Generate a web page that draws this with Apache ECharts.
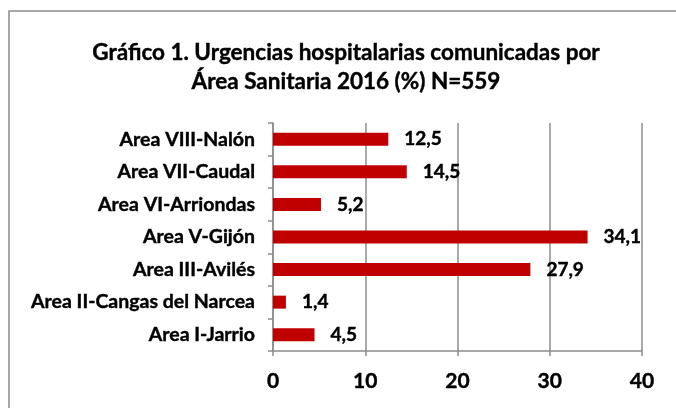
<!DOCTYPE html>
<html>
<head>
<meta charset="utf-8">
<script src="https://cdn.jsdelivr.net/npm/echarts@6/dist/echarts.min.js"></script>
<style>
  html, body { margin: 0; padding: 0; background: #fff; }
  #chart { width: 676px; height: 408px; }
</style>
</head>
<body>
<div id="chart"></div>
<script>
// categories, bottom to top as ECharts draws them
const areas = [
  'Area I-Jarrio',
  'Area II-Cangas del Narcea',
  'Area III-Avilés',
  'Area V-Gijón',
  'Area VI-Arriondas',
  'Area VII-Caudal',
  'Area VIII-Nalón'
]
const percent = [4.5, 1.4, 27.9, 34.1, 5.2, 14.5, 12.5]
const xTicks = [0, 10, 20, 30, 40]

const FONT = 'Lato'
const chart = echarts.init(document.getElementById('chart'))

// texto en negrita algo más grueso, como el original
const bold = size => ({
  fontFamily: FONT,
  fontWeight: 'bold',
  fontSize: size,
  color: '#000',
  textBorderColor: '#000',
  textBorderWidth: 0.4
})

chart.setOption({
  animation: false,
  backgroundColor: '#fff',
  title: {
    text: 'Gráfico 1. Urgencias hospitalarias comunicadas por\nÁrea Sanitaria 2016 (%) N=559',
    left: 341,
    textAlign: 'center',
    top: 33,
    textStyle: Object.assign(bold(22.5), { lineHeight: 29 })
  },
  // marco del gráfico
  graphic: [{
    type: 'rect',
    shape: { x: 9, y: 11, width: 700, height: 420 },
    style: { fill: null, stroke: '#8c8c8c', lineWidth: 1.5 },
    silent: true
  }],
  grid: {
    left: 273,
    right: 34,
    top: 123,
    bottom: 57
  },
  xAxis: {
    type: 'value',
    min: xTicks[0],
    max: xTicks[xTicks.length - 1],
    interval: 10,
    axisLine: { show: true, lineStyle: { color: '#8c8c8c', width: 1.5 } },
    axisTick: { show: true, length: 5, lineStyle: { color: '#8c8c8c', width: 1.5 } },
    splitLine: { show: true, lineStyle: { color: '#8c8c8c', width: 1.5 } },
    axisLabel: Object.assign(bold(21), { margin: 20 })
  },
  yAxis: {
    type: 'category',
    data: areas,
    axisLine: { show: true, lineStyle: { color: '#8c8c8c', width: 1.5 } },
    axisTick: { show: true, length: 5, lineStyle: { color: '#8c8c8c', width: 1.5 } },
    axisLabel: Object.assign(bold(19.5), { margin: 18 })
  },
  series: [{
    type: 'bar',
    data: percent,
    barWidth: 13,
    itemStyle: { color: '#c00000' },
    label: Object.assign(bold(19), {
      show: true,
      position: 'right',
      distance: 16,
      formatter: p => p.value.toFixed(1).replace('.', ',')
    })
  }]
})
</script>
</body>
</html>
